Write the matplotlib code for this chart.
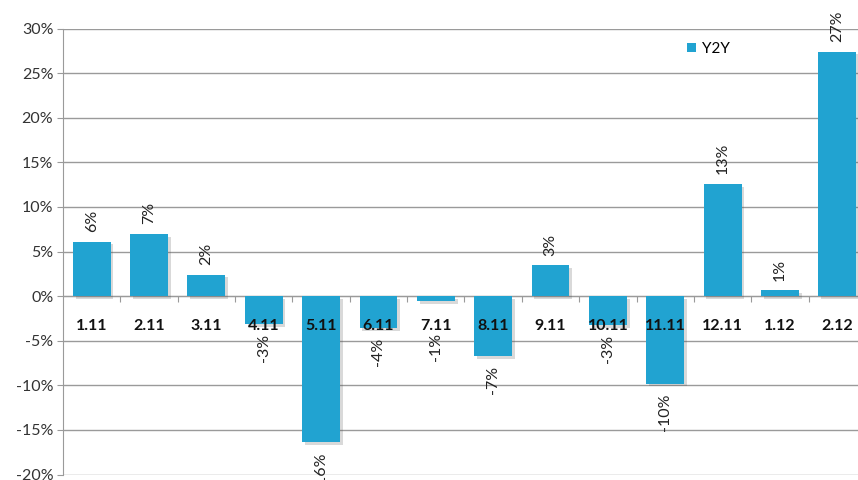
import numpy as np
import matplotlib.pyplot as plt
import matplotlib.patheffects as pe

plt.rcParams['font.family'] = ['Lato', 'DejaVu Sans']

months = ["1.11", "2.11", "3.11", "4.11", "5.11", "6.11", "7.11",
          "8.11", "9.11", "10.11", "11.11", "12.11", "1.12", "2.12"]
y2y = [6.1, 6.95, 2.4, -3.1, -16.4, -3.6, -0.55,
       -6.7, 3.45, -3.25, -9.8, 12.55, 0.65, 27.4]
yticks = [-20, -15, -10, -5, 0, 5, 10, 15, 20, 25, 30]

bar_color = "#21A3D1"
grid_color = "#9a9a9a"

fig = plt.figure(figsize=(8.58, 4.80), dpi=100)
ax = fig.add_axes([63/858, 1 - 474.5/480, (866 - 63)/858, 446/480])

x = np.arange(len(months))
bars = ax.bar(x, y2y, width=0.66, color=bar_color, label="Y2Y", zorder=3,
              path_effects=[pe.SimplePatchShadow(offset=(2, -2), alpha=0.22,
                                                 shadow_rgbFace="#555555"),
                            pe.Normal()])

ax.set_xlim(-0.5, len(months) - 0.5)
ax.set_ylim(-20, 30)
ax.set_yticks(yticks)
ax.set_yticklabels([f"{t}%" for t in yticks], fontsize=11.5, color="#333333")
ax.yaxis.grid(True, color=grid_color, lw=1)
ax.set_axisbelow(True)

for s in ["top", "right"]:
    ax.spines[s].set_visible(False)
ax.spines["left"].set_color(grid_color)
ax.spines["bottom"].set_position(("data", 0))
ax.spines["bottom"].set_color(grid_color)
ax.set_xticks(x[:-1] + 0.5)
ax.set_xticklabels([])
ax.tick_params(axis="x", direction="out", length=4, color=grid_color)
ax.tick_params(axis="y", direction="out", length=4, color=grid_color, pad=3)

# category labels just under the zero line
for xi, m in zip(x, months):
    ax.annotate(m, (xi, 0), xytext=(0, -21.5), textcoords="offset points",
                ha="center", va="center", fontsize=11.5, fontweight="bold",
                color="#111111", zorder=5)

# value labels (negative ones kept clear of the category labels)
for xi, v in zip(x, y2y):
    lab = f"{v:.0f}%"
    if v >= 0:
        ax.annotate(lab, (xi, v), xytext=(0, 7), textcoords="offset points",
                    ha="center", va="bottom", rotation=90, fontsize=11.5,
                    color="#222222")
    else:
        ax.annotate(lab, (xi, min(v, -3.0)), xytext=(0, -7),
                    textcoords="offset points", ha="center", va="top",
                    rotation=90, fontsize=11.5, color="#222222")

leg = ax.legend(loc="upper left", bbox_to_anchor=(687/858, 1 - 42/480),
                bbox_transform=fig.transFigure, frameon=False, fontsize=11,
                handlelength=0.6, handleheight=0.6, handletextpad=0.4,
                borderpad=0, borderaxespad=0)
for h in leg.legend_handles:
    h.set_path_effects([])

fig.savefig("out.png", dpi=100)
